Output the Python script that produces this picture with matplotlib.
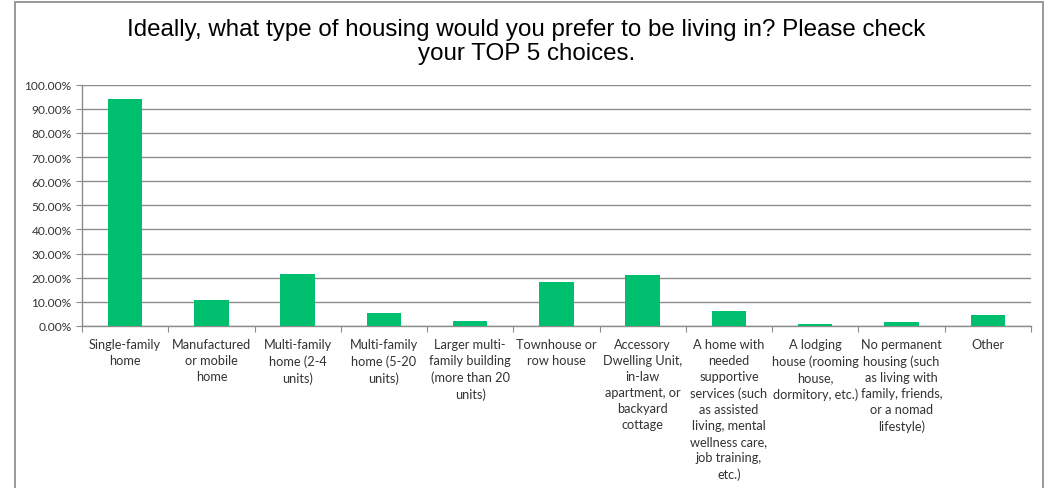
import numpy as np
import matplotlib.pyplot as plt
from matplotlib.patches import Rectangle
from matplotlib.ticker import FuncFormatter

title = "Ideally, what type of housing would you prefer to be living in? Please check\nyour TOP 5 choices."

categories = [
    "Single-family\nhome",
    "Manufactured\nor mobile\nhome",
    "Multi-family\nhome (2-4\nunits)",
    "Multi-family\nhome (5-20\nunits)",
    "Larger multi-\nfamily building\n(more than 20\nunits)",
    "Townhouse or\nrow house",
    "Accessory\nDwelling Unit,\nin-law\napartment, or\nbackyard\ncottage",
    "A home with\nneeded\nsupportive\nservices (such\nas assisted\nliving, mental\nwellness care,\njob training,\netc.)",
    "A lodging\nhouse (rooming\nhouse,\ndormitory, etc.)",
    "No permanent\nhousing (such\nas living with\nfamily, friends,\nor a nomad\nlifestyle)",
    "Other",
]
values = [94.1, 10.8, 21.5, 5.4, 2.1, 18.2, 21.3, 6.1, 0.8, 1.5, 4.5]

bar_color = "#00BF6F"
grid_color = "#8C8C8C"

fig = plt.figure(figsize=(10.53, 4.89), dpi=100)
ax = fig.add_axes([0.0779, 0.3313, 0.9011, 0.4935])

x = np.arange(len(categories))
ax.bar(x, values, width=0.4, color=bar_color, zorder=3)

ax.set_xlim(-0.5, len(categories) - 0.5)
ax.set_ylim(0, 100)
ax.set_yticks(np.arange(0, 101, 10))
ax.yaxis.set_major_formatter(FuncFormatter(lambda v, p: f"{v:.2f}%"))
ax.grid(axis="y", color=grid_color, linewidth=1, zorder=0)

# category labels between tick marks
ax.set_xticks(np.arange(len(categories) + 1) - 0.5)
ax.set_xticklabels([])
ax.set_xticks(x, minor=True)
ax.set_xticklabels(categories, minor=True, fontfamily="Lato", fontsize=9.2,
                   color="#333333", linespacing=1.4)
ax.tick_params(axis="x", which="minor", length=0, pad=9)
ax.tick_params(axis="x", which="major", length=4, color=grid_color, direction="out")
ax.tick_params(axis="y", length=4, color=grid_color, labelsize=8.6, labelcolor="#333333")
for lab in ax.get_yticklabels():
    lab.set_fontfamily("Lato")

for s in ["top", "right"]:
    ax.spines[s].set_visible(False)
for s in ["left", "bottom"]:
    ax.spines[s].set_color(grid_color)
    ax.spines[s].set_linewidth(1)

fig.text(0.5, 0.962, title, ha="center", va="top", fontsize=17.4,
         fontfamily="Liberation Sans", color="black", linespacing=1.12)

# outer chart frame
fig.patches.append(Rectangle((15 / 1053, -0.05), 1028 / 1053, 1 - 3 / 489 + 0.05,
                             transform=fig.transFigure, fill=False,
                             edgecolor="#888888", linewidth=1.2))

fig.savefig("out.png", dpi=100)
